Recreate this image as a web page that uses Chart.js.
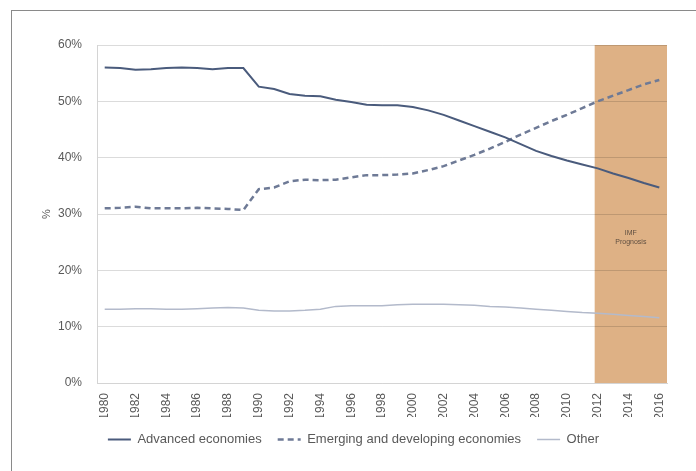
<!doctype html>
<html lang="en">
  <head>
    <meta charset="utf-8">
    <title>Share of world GDP</title>
    <style>
      * {
        margin: 0;
        padding: 0;
      }
      body {
        width: 696px;
        height: 471px;
        overflow: hidden;
        background: #fff;
        position: relative;
      }
      .frame {
        position: absolute;
        left: 11px;
        top: 10px;
        width: 720px;
        height: 500px;
        border: solid 1px #8a8a8a;
      }
      .chartBox {
        position: absolute;
        left: 0;
        top: 0;
        width: 696px;
        height: 471px;
      }
    </style>
  </head>
  <body>
    <div class="frame"></div>
    <div class="chartBox">
      <canvas id="myChart" width="696" height="471"></canvas>
    </div>
    <script src="https://cdn.jsdelivr.net/npm/chart.js/dist/chart.umd.min.js"></script>
    <script>
    // data
    const years = ['1980','1981','1982','1983','1984','1985','1986','1987','1988','1989',
      '1990','1991','1992','1993','1994','1995','1996','1997','1998','1999',
      '2000','2001','2002','2003','2004','2005','2006','2007','2008','2009',
      '2010','2011','2012','2013','2014','2015','2016'];
    const advanced = [56.0, 55.9, 55.6, 55.7, 55.9, 56.0, 55.9, 55.7, 55.9, 55.9,
      52.6, 52.2, 51.3, 51.0, 50.9, 50.3, 49.9, 49.4, 49.3, 49.3,
      49.0, 48.4, 47.6, 46.6, 45.6, 44.6, 43.6, 42.4, 41.2, 40.3,
      39.5, 38.8, 38.1, 37.2, 36.4, 35.5, 34.7];
    const emerging = [31.0, 31.1, 31.3, 31.0, 31.0, 31.0, 31.1, 31.0, 30.9, 30.7,
      34.4, 34.7, 35.8, 36.1, 36.0, 36.1, 36.5, 36.9, 36.9, 37.0,
      37.2, 37.8, 38.5, 39.5, 40.5, 41.6, 42.8, 44.1, 45.3, 46.5,
      47.6, 48.8, 50.0, 51.0, 52.0, 53.0, 53.8];
    const other = [13.1, 13.1, 13.2, 13.2, 13.1, 13.1, 13.2, 13.3, 13.4, 13.3,
      12.9, 12.8, 12.8, 12.9, 13.1, 13.6, 13.7, 13.7, 13.7, 13.9,
      14.0, 14.0, 14.0, 13.9, 13.8, 13.6, 13.5, 13.3, 13.1, 12.9,
      12.7, 12.5, 12.4, 12.2, 12.0, 11.8, 11.6];
    const yTicks = [0, 10, 20, 30, 40, 50, 60];
    const forecastStart = '2012';
    const forecastText = ['IMF', 'Prognosis'];

    const textColor = '#595959';
    const font = '"Liberation Sans", sans-serif';

    // shaded forecast band, painted before the grid so gridlines show through
    const forecastBand = {
      id: 'forecastBand',
      beforeDraw(chart) {
        const { ctx, chartArea, scales } = chart;
        const x0 = scales.x.getPixelForValue(years.indexOf(forecastStart)) - 3;
        ctx.save();
        ctx.fillStyle = '#deb185';
        ctx.fillRect(x0, chartArea.top, chartArea.right - x0, chartArea.bottom - chartArea.top);
        ctx.restore();
      },
      afterDatasetsDraw(chart) {
        const { ctx, chartArea, scales } = chart;
        const x0 = scales.x.getPixelForValue(years.indexOf(forecastStart)) - 3;
        const cx = (x0 + chartArea.right) / 2;
        ctx.save();
        ctx.fillStyle = '#5e4e40';
        ctx.font = '7px ' + font;
        ctx.textAlign = 'center';
        ctx.textBaseline = 'middle';
        ctx.fillText(forecastText[0], cx, 233);
        ctx.fillText(forecastText[1], cx, 242);
        ctx.restore();
      }
    };

    // config
    const config = {
      type: 'line',
      data: {
        labels: years,
        datasets: [{
          label: 'Advanced economies',
          data: advanced,
          borderColor: '#4a5b7c',
          borderWidth: 2,
          pointRadius: 0,
          tension: 0
        }, {
          label: 'Emerging and developing economies',
          data: emerging,
          borderColor: '#6e7a96',
          borderWidth: 2.5,
          borderDash: [6, 4],
          pointRadius: 0,
          tension: 0
        }, {
          label: 'Other',
          data: other,
          borderColor: '#b3bacb',
          borderWidth: 1.5,
          pointRadius: 0,
          tension: 0
        }]
      },
      options: {
        responsive: false,
        animation: false,
        layout: {
          padding: { left: 40, top: 45, right: 29, bottom: 15 }
        },
        scales: {
          x: {
            offset: true,
            grid: { display: false, drawTicks: false },
            border: { color: '#d4d4d4', width: 1 },
            ticks: {
              autoSkip: false,
              minRotation: 90,
              maxRotation: 90,
              padding: 10,
              color: textColor,
              font: { family: font, size: 12 },
              callback: (v, i) => (i % 2 === 0 ? years[i] : '')
            },
            afterFit: (s) => { s.height = 34; }
          },
          y: {
            min: 0,
            max: 60,
            afterBuildTicks: (s) => { s.ticks = yTicks.map(v => ({ value: v })); },
            grid: { color: 'rgba(0,0,0,0.14)', lineWidth: 1, drawTicks: false },
            border: { color: '#d4d4d4', width: 1 },
            ticks: {
              padding: 15,
              color: textColor,
              font: { family: font, size: 12 },
              callback: (v) => v + '%'
            },
            title: {
              display: true,
              text: '%',
              color: textColor,
              padding: 0,
              font: { family: font, size: 11 }
            },
            afterFit: (s) => { s.width = 57; }
          }
        },
        plugins: {
          legend: {
            position: 'bottom',
            labels: {
              usePointStyle: true,
              pointStyle: 'line',
              pointStyleWidth: 23,
              boxHeight: 8,
              padding: 16,
              color: textColor,
              font: { family: font, size: 13 },
              generateLabels(chart) {
                const items = Chart.defaults.plugins.legend.labels.generateLabels(chart);
                items.forEach((it) => {
                  const ds = chart.data.datasets[it.datasetIndex];
                  it.strokeStyle = ds.borderColor;
                  it.lineWidth = ds.borderWidth;
                  it.lineDash = ds.borderDash || [];
                });
                return items;
              }
            }
          },
          tooltip: { enabled: false }
        }
      },
      plugins: [forecastBand]
    };

    // render init block
    const myChart = new Chart(
      document.getElementById('myChart'),
      config
    );
    </script>
  </body>
</html>
